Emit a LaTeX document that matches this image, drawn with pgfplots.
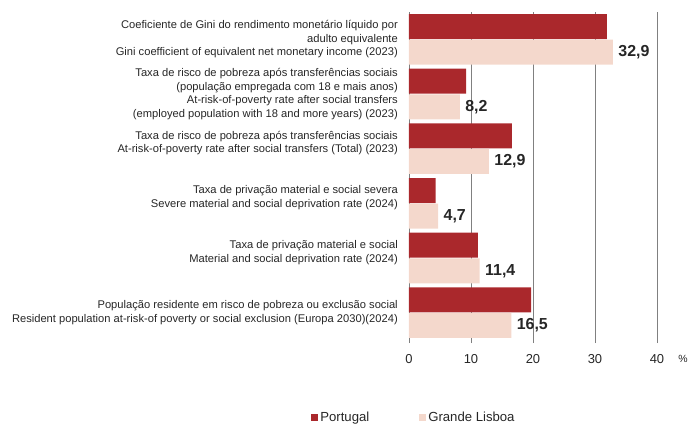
\documentclass[border=0pt]{standalone}
\usepackage{fontspec}
\setmainfont{Liberation Sans}
\usepackage{pgfplots}
\pgfplotsset{compat=1.18}
\definecolor{pt}{RGB}{170,40,44}
\definecolor{gl}{RGB}{244,216,204}
\definecolor{gridc}{RGB}{128,128,128}
\begin{document}
\begin{tikzpicture}
\begin{axis}[
  name=ax,
  scale only axis,
  width=248bp, height=328bp,
  xmin=0, xmax=40,
  ymin=-0.5, ymax=5.5,
  y dir=reverse,
  xbar,
  bar width=25bp,
  axis line style={draw=none},
  ytick style={draw=none},
  xtick style={gridc, line width=0.7bp},
  xtick pos=bottom,
  xtick align=outside,
  major tick length=3bp,
  xtick={0,10,20,30,40},
  xmajorgrids,
  grid style={gridc, line width=0.7bp},
  ytick={0,1,2,3,4,5},
  yticklabels={
    {Coeficiente de Gini do rendimento monetário líquido  por\\adulto equivalente\\Gini coefficient of equivalent net monetary income (2023)},
    {Taxa de risco de pobreza após transferências sociais\\(população empregada com 18 e mais anos)\\At-risk-of-poverty rate after social transfers\\(employed population with 18 and more years) (2023)},
    {Taxa de risco de pobreza após transferências sociais\\At-risk-of-poverty rate after social transfers  (Total) (2023)\\\mbox{}},
    {Taxa de privação material e social severa\\Severe material and social deprivation rate (2024)\\\mbox{}},
    {Taxa de privação material e social\\Material and social deprivation rate (2024)\\\mbox{}},
    {População residente em risco de pobreza ou exclusão social\\Resident population at-risk-of poverty or social exclusion (Europa 2030)(2024)}
  },
  yticklabel style={align=right, font=\fontsize{11.2}{13.5}\selectfont, inner sep=0pt, xshift=-8bp, text=black!85},
  xticklabel style={font=\fontsize{13}{15}\selectfont, text=black!85, yshift=-8bp},
  /pgf/number format/assume math mode=true,
  legend columns=2,
  legend style={at={(0.02,-0.237)}, anchor=center, draw=none, fill=none,
    font=\fontsize{13.2}{15}\selectfont, text=black!85,
    /tikz/every even column/.append style={column sep=48bp}},
  legend image code/.code={\fill[#1] (0bp,-3.5bp) rectangle (7bp,3.5bp);},
  clip=false,
]
\addplot[fill=pt, draw=none, bar shift=12.8bp] coordinates {
 (31.9,0) (9.2,1) (16.6,2) (4.3,3) (11.1,4) (19.7,5)};
\addlegendentry{Portugal}
\addplot[fill=gl, draw=none, bar shift=-12.8bp,
  nodes near coords,
  nodes near coords style={font=\bfseries\fontsize{16}{17}\selectfont, text=black!85, anchor=west, xshift=2bp,
    /pgf/number format/.cd, fixed, fixed zerofill, precision=1, use comma, assume math mode=true},
] coordinates {
 (32.9,0) (8.2,1) (12.9,2) (4.7,3) (11.4,4) (16.5,5)};
\addlegendentry{Grande Lisboa}
\node[font=\fontsize{10.5}{12}\selectfont, text=black!85] at (axis cs:44.2,5.5) [yshift=-19bp] {\%};
\end{axis}
\pgfresetboundingbox
\path (ax.south west) ++(-409bp,-84bp) rectangle ++(689bp,424bp);
\end{tikzpicture}
\end{document}
